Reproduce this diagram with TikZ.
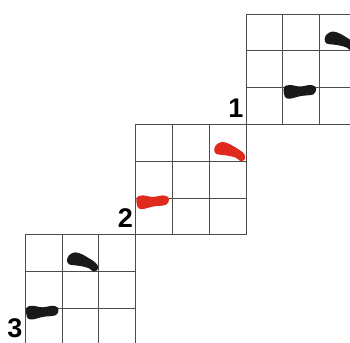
\documentclass[tikz,border=0pt]{standalone}
\usepackage{fontspec}
\setmainfont{Liberation Sans}
\definecolor{footred}{RGB}{224,42,30}
\definecolor{footblack}{RGB}{25,25,25}
\tikzset{
  gridline/.style={black!70,line width=0.8pt},
  numlabel/.style={anchor=south east,inner sep=0pt,font=\bfseries\fontsize{27}{27}\selectfont},
  pics/upfoot/.style={code={\fill[#1] plot[smooth cycle,tension=0.6] coordinates {(0,8) (2,3) (8,0) (15,2) (22,6) (28,10) (31,14) (30,18) (26,19) (22,16) (15,14) (8,13) (2,12)};}},
  pics/lowfoot/.style={code={\fill[#1] plot[smooth cycle,tension=0.6] coordinates {(0,2) (6,0) (16,1.5) (26,0) (31,1.5) (32,5) (29,9.5) (17,11) (7,13.5) (2,13) (0,9)};}},
}
\begin{document}
\begin{tikzpicture}[x=1pt,y=-1pt]
\useasboundingbox (0,0) rectangle (350,342);
\clip (0,0) rectangle (350,342);
\foreach \ox/\oy in {246/14,135.6/124.4,25.2/234.8}{
  \foreach \k in {0,...,3}{
    \draw[gridline] (\ox+\k*36.8,\oy) -- (\ox+\k*36.8,\oy+110.4);
    \draw[gridline] (\ox,\oy+\k*36.8) -- (\ox+110.4,\oy+\k*36.8);
  }
}
\node[numlabel] (one) at (243.5,117.5) {1};
\node[numlabel] (two) at (133.1,227.9) {2};
\node[numlabel] (three) at (22.7,338.3) {3};
\pic at (324.6,31.5) {upfoot=footblack};
\pic at (284,85) {lowfoot=footblack};
\pic at (214.2,141.9) {upfoot=footred};
\pic at (136.8,195.4) {lowfoot=footred};
\pic at (67,252.3) {upfoot=footblack};
\pic at (26.4,305.8) {lowfoot=footblack};
\end{tikzpicture}
\end{document}
